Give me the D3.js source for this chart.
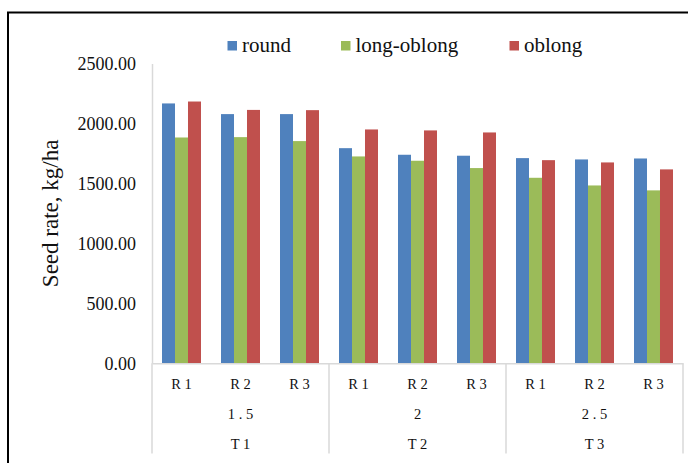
<!DOCTYPE html>
<html>
<head>
<meta charset="utf-8">
<script src="https://cdn.jsdelivr.net/npm/d3@7"></script>
<style>
  html, body { margin: 0; padding: 0; background: #fff; }
  svg { display: block; }
  svg text { font-family: "Liberation Serif", Tinos, "DejaVu Serif", "Times New Roman", Times, serif; fill: #111; }
</style>
</head>
<body>
<svg id="chart" width="688" height="463"></svg>
<script>
// Seed rate by plot (R), rate level and treatment (T), for three seed shapes
const subCategories = ["R 1", "R 2", "R 3"];
const rateLabels = ["1 . 5", "2", "2 . 5"];
const treatmentLabels = ["T 1", "T 2", "T 3"];
const seriesNames = ["round", "long-oblong", "oblong"];
const roundValues      = [2167, 2078, 2078, 1794, 1739, 1731, 1711, 1700, 1708];
const longOblongValues = [1883, 1886, 1853, 1725, 1689, 1628, 1547, 1483, 1442];
const oblongValues     = [2183, 2113, 2111, 1950, 1942, 1925, 1694, 1675, 1617];
const yTicks = [0, 500, 1000, 1500, 2000, 2500];
const seriesColors = ["#4F81BD", "#9BBB59", "#C0504D"];

const FONT = '"Liberation Serif", Tinos, "DejaVu Serif", "Times New Roman", Times, serif';

const seriesValues = [roundValues, longOblongValues, oblongValues];

// One row per bar cluster: group index, R label, and the three series values
const rows = [];
treatmentLabels.forEach((t, g) => {
  subCategories.forEach((r, i) => {
    const k = g * subCategories.length + i;
    rows.push({ key: t + "|" + r, group: g, label: r,
                values: seriesNames.map((s, j) => ({ series: s, value: seriesValues[j][k] })) });
  });
});

const svg = d3.select("#chart");

// Outer frame
svg.append("rect")
  .attr("x", 8).attr("y", 12.5).attr("width", 700).attr("height", 480)
  .attr("fill", "none").attr("stroke", "#000").attr("stroke-width", 2);

const plot = { left: 152, right: 683, top: 63.5, bottom: 363.3 };

const x0 = d3.scaleBand()
  .domain(rows.map(d => d.key))
  .range([plot.left, plot.right])
  .paddingInner(0).paddingOuter(0);

const x1 = d3.scaleBand()
  .domain(seriesNames)
  .range([0, x0.bandwidth()])
  .paddingInner(0).paddingOuter(0.77);

const y = d3.scaleLinear().domain([0, 2500]).range([plot.bottom, plot.top]);

const color = d3.scaleOrdinal().domain(seriesNames).range(seriesColors);

// Y axis
const yAxis = svg.append("g")
  .attr("transform", `translate(${plot.left},0)`)
  .call(d3.axisLeft(y).tickValues(yTicks).tickFormat(d3.format(".2f"))
        .tickSize(0).tickPadding(16));
yAxis.attr("font-family", FONT);
yAxis.select(".domain").attr("stroke", "#D9D9D9").attr("stroke-width", 1.5);
yAxis.selectAll("text")
  .attr("font-family", FONT).style("font-family", FONT)
  .style("font-size", "18px").attr("fill", "#111").attr("dy", "0.34em");

// Bars
const clusters = svg.append("g").selectAll("g")
  .data(rows).join("g")
  .attr("transform", d => `translate(${x0(d.key)},0)`);

clusters.selectAll("rect")
  .data(d => d.values).join("rect")
  .attr("x", d => x1(d.series))
  .attr("width", x1.bandwidth())
  .attr("y", d => y(d.value))
  .attr("height", d => y(0) - y(d.value))
  .attr("fill", d => color(d.series));

// X axis: first level (R labels)
const xAxis = svg.append("g")
  .attr("transform", `translate(0,${plot.bottom})`)
  .call(d3.axisBottom(x0).tickSize(0).tickPadding(15)
        .tickFormat(k => rows.find(r => r.key === k).label));
xAxis.attr("font-family", FONT);
xAxis.select(".domain").attr("stroke", "#D9D9D9").attr("stroke-width", 1.5);
xAxis.selectAll("text")
  .attr("font-family", FONT).style("font-family", FONT)
  .style("font-size", "14.5px").attr("fill", "#111").attr("dy", "0.71em");

// Group separators spanning the lower label levels
const groupEdges = d3.range(treatmentLabels.length + 1).map(g =>
  g < treatmentLabels.length ? x0(rows[g * subCategories.length].key)
                             : x0(rows[rows.length - 1].key) + x0.bandwidth());
svg.append("g").selectAll("line")
  .data(groupEdges).join("line")
  .attr("x1", d => d).attr("x2", d => d)
  .attr("y1", plot.bottom).attr("y2", 453.5)
  .attr("stroke", "#D9D9D9").attr("stroke-width", 1.5);

const groupCenter = g => (groupEdges[g] + groupEdges[g + 1]) / 2;

svg.append("g").selectAll("text")
  .data(rateLabels).join("text")
  .attr("x", (d, g) => groupCenter(g)).attr("y", 418.5)
  .attr("text-anchor", "middle")
  .style("font-family", FONT).style("font-size", "14.5px")
  .text(d => d);

svg.append("g").selectAll("text")
  .data(treatmentLabels).join("text")
  .attr("x", (d, g) => groupCenter(g)).attr("y", 448.5)
  .attr("text-anchor", "middle")
  .style("font-family", FONT).style("font-size", "14.5px")
  .text(d => d);

// Y axis title
svg.append("text")
  .attr("transform", `translate(58,${(plot.top + plot.bottom) / 2}) rotate(-90)`)
  .attr("text-anchor", "middle")
  .style("font-family", FONT).style("font-size", "23px")
  .text("Seed rate, kg/ha");

// Legend
const legendX = [227.5, 341, 509.5];
const legend = svg.append("g").selectAll("g")
  .data(seriesNames).join("g")
  .attr("transform", (d, i) => `translate(${legendX[i]},41)`);
legend.append("rect")
  .attr("width", 9.5).attr("height", 9.5)
  .attr("fill", d => color(d));
legend.append("text")
  .attr("x", 14.5).attr("y", 10.7)
  .style("font-family", FONT).style("font-size", "21px")
  .text(d => d);
</script>
</body>
</html>
